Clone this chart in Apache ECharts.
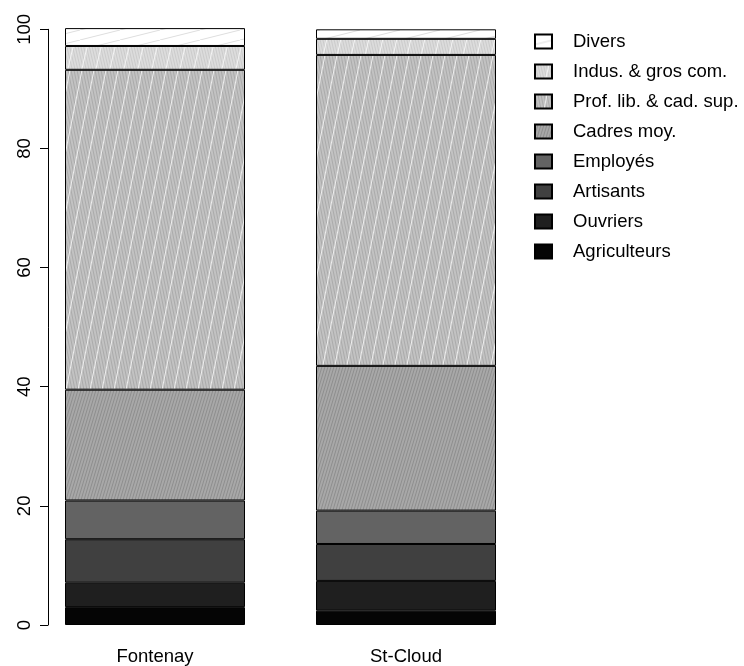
<!DOCTYPE html>
<html>
<head>
<meta charset="utf-8">
<script src="https://cdn.jsdelivr.net/npm/echarts@6/dist/echarts.min.js"></script>
<style>
  html, body { margin: 0; padding: 0; background: #fff; }
  #chart { width: 744px; height: 666px; }
</style>
</head>
<body>
<div id="chart"></div>
<script>
// categories
const communes = ['Fontenay', 'St-Cloud'];
// percentages per social category (bottom to top)
const agriculteurs = [3.0, 2.4];
const ouvriers = [4.1, 5.0];
const artisants = [7.3, 6.2];
const employes = [6.5, 5.6];
const cadresMoy = [18.6, 24.3];
const profLib = [53.7, 52.2];
const indus = [4.0, 2.7];
const divers = [3.0, 1.6];
const yTicks = [0, 20, 40, 60, 80, 100];

const FONT = '"Liberation Sans", Arial, Helvetica, sans-serif';

// small helper to draw hatching tiles (like R density/angle shading)
function hatch(ctx, w, h, dir, n, color, lw) {
    ctx.strokeStyle = color;
    ctx.lineWidth = lw;
    const step = w / n;
    for (let k = -n * 2; k <= n * 3; k++) {
        const x = k * step;
        ctx.beginPath();
        if (dir > 0) { ctx.moveTo(x, h); ctx.lineTo(x + w, 0); }
        else { ctx.moveTo(x, 0); ctx.lineTo(x + w, h); }
        ctx.stroke();
    }
}
function tile(w, h, bg, draw) {
    const c = document.createElement('canvas');
    c.width = w; c.height = h;
    const ctx = c.getContext('2d');
    ctx.fillStyle = bg;
    ctx.fillRect(0, 0, w, h);
    draw(ctx, w, h);
    return { image: c, repeat: 'repeat' };
}

const patDivers = tile(40, 10, '#ffffff', function (ctx, w, h) {
    hatch(ctx, w, h, 1, 1, '#dedede', 1);
});
const patIndus = tile(14, 60, '#dcdcdc', function (ctx, w, h) {
    hatch(ctx, w, h, -1, 5, '#cbcbcb', 1);
    hatch(ctx, w, h, 1, 1, '#f4f4f4', 1);
});
const patProf = tile(12, 60, '#c2c2c2', function (ctx, w, h) {
    hatch(ctx, w, h, -1, 4, '#ababab', 1);
    hatch(ctx, w, h, 1, 1, '#eeeeee', 1);
});
const patCadres = tile(12, 40, '#a8a8a8', function (ctx, w, h) {
    hatch(ctx, w, h, 1, 4, '#8e8e8e', 1);
});

const layers = [
    { name: 'Agriculteurs', data: agriculteurs, color: '#050505' },
    { name: 'Ouvriers', data: ouvriers, color: '#1f1f1f' },
    { name: 'Artisants', data: artisants, color: '#404040' },
    { name: 'Employés', data: employes, color: '#636363' },
    { name: 'Cadres moy.', data: cadresMoy, color: patCadres },
    { name: 'Prof. lib. & cad. sup.', data: profLib, color: patProf },
    { name: 'Indus. & gros com.', data: indus, color: patIndus },
    { name: 'Divers', data: divers, color: patDivers }
];

const chart = echarts.init(document.getElementById('chart'), null, { renderer: 'canvas' });

const option = {
    animation: false,
    backgroundColor: '#ffffff',
    textStyle: { fontFamily: FONT, color: '#000' },
    grid: {
        left: 29.5,
        right: 212.5,
        top: 29.3,
        bottom: 40.5,
        containLabel: false
    },
    legend: {
        orient: 'vertical',
        left: 529,
        top: 27,
        itemWidth: 17,
        itemHeight: 14,
        itemGap: 11,
        icon: 'rect',
        data: layers.map(function (l) { return l.name; }).reverse(),
        textStyle: {
            fontFamily: FONT,
            fontSize: 18.5,
            color: '#000',
            lineHeight: 18,
            padding: [0, 0, 0, 16]
        }
    },
    xAxis: {
        type: 'category',
        data: communes,
        axisLine: { show: false },
        axisTick: { show: false },
        axisLabel: { fontFamily: FONT, fontSize: 18.5, color: '#000', margin: 22 }
    },
    yAxis: {
        type: 'value',
        min: 0,
        max: 100,
        interval: 20,
        offset: -18.5,
        splitLine: { show: false },
        axisLine: { show: true, lineStyle: { color: '#000', width: 1 } },
        axisTick: { show: true, length: 8, lineStyle: { color: '#000' } },
        axisLabel: {
            fontFamily: FONT,
            fontSize: 18.5,
            color: '#000',
            rotate: 90,
            margin: 14,
            formatter: function (v) { return yTicks.indexOf(v) >= 0 ? String(v) : ''; }
        }
    },
    series: layers.map(function (l) {
        return {
            name: l.name,
            type: 'bar',
            stack: 'total',
            barWidth: 180,
            clip: false,
            data: l.data,
            itemStyle: { color: l.color, borderColor: '#000', borderWidth: 1 }
        };
    })
};

chart.setOption(option);
window.addEventListener('resize', function () {
    chart.resize();
});
</script>
</body>
</html>
